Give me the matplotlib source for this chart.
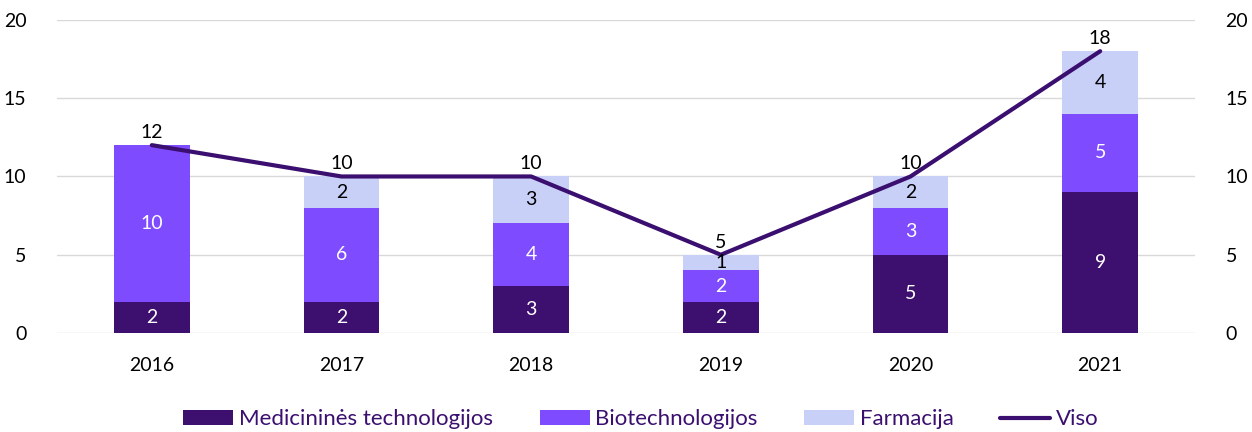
import matplotlib.pyplot as plt
import numpy as np

plt.rcParams['font.family'] = ['Lato', 'DejaVu Sans']

years = ['2016', '2017', '2018', '2019', '2020', '2021']
medtech = [2, 2, 3, 2, 5, 9]
biotech = [10, 6, 4, 2, 3, 5]
farmac = [0, 2, 3, 1, 2, 4]
viso = [12, 10, 10, 5, 10, 18]

c_med = '#3d0f6e'
c_bio = '#7f4bff'
c_far = '#c9d0f8'
c_line = '#3b0f70'

fig = plt.figure(figsize=(12.52, 4.32), dpi=100)
ax = fig.add_axes([0.0455, 0.229, 0.909, 0.725])
x = np.arange(len(years))
w = 0.4

b1 = ax.bar(x, medtech, w, color=c_med, label='Medicininės technologijos', zorder=2)
b2 = ax.bar(x, biotech, w, bottom=medtech, color=c_bio, label='Biotechnologijos', zorder=2)
bot3 = np.array(medtech) + np.array(biotech)
b3 = ax.bar(x, farmac, w, bottom=bot3, color=c_far, label='Farmacija', zorder=2)
ln, = ax.plot(x, viso, color=c_line, lw=3, label='Viso', zorder=3, solid_capstyle='round')

fs = 14
# segment labels
for i in range(len(years)):
    ax.text(x[i], medtech[i] / 2, str(medtech[i]), ha='center', va='center', color='white', fontsize=fs, zorder=4)
    ax.text(x[i], medtech[i] + biotech[i] / 2, str(biotech[i]), ha='center', va='center', color='white', fontsize=fs, zorder=4)
    if farmac[i] > 0:
        ax.text(x[i], bot3[i] + farmac[i] / 2, str(farmac[i]), ha='center', va='center', color='black', fontsize=fs, zorder=4)
    ax.annotate(str(viso[i]), (x[i], viso[i]), xytext=(0, 3), textcoords='offset points',
                ha='center', va='bottom', fontsize=fs, color='black', zorder=4)

ax.set_xlim(-0.5, len(years) - 0.5)
ax.set_ylim(0, 20)
ax.set_yticks([0, 5, 10, 15, 20])
ax.set_xticks(x)
ax.set_xticklabels(years)
ax.grid(axis='y', color='#d9d9d9', lw=1, zorder=0)
for s in ax.spines.values():
    s.set_visible(False)
ax.tick_params(axis='both', length=0, labelsize=fs)
ax.tick_params(axis='x', pad=17)
ax.tick_params(axis='y', pad=22)

ax2 = ax.twinx()
ax2.set_ylim(0, 20)
ax2.set_yticks([0, 5, 10, 15, 20])
for s in ax2.spines.values():
    s.set_visible(False)
ax2.tick_params(axis='y', length=0, labelsize=fs, pad=22)

leg = fig.legend(handles=[b1, b2, b3, ln], loc='lower center', bbox_to_anchor=(0.512, -0.04),
                 ncol=4, frameon=False, fontsize=16, handlelength=2.25, handleheight=0.7,
                 columnspacing=2.1, handletextpad=0.25)
for t in leg.get_texts():
    t.set_color(c_line)

fig.savefig('out.png', dpi=100)
